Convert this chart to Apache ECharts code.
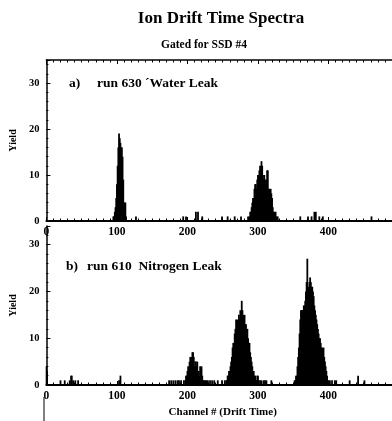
<!DOCTYPE html>
<html>
<head>
<meta charset="utf-8">
<script src="https://cdn.jsdelivr.net/npm/echarts@6/dist/echarts.min.js"></script>
<style>html,body{margin:0;padding:0;background:#fff;overflow:hidden;width:392px;height:421px}#c{width:402px;height:421px}</style>
</head>
<body>
<div id="c"></div>
<script>
// ---- Tick labels ----
const xTicks = [0, 100, 200, 300, 400];
const yTicks = [0, 10, 20, 30];

// ---- Panel a) run 630 Water Leak ----
const waterPeak1Start = 95;
const waterPeak1 = [1, 1, 2, 3, 5, 8, 12, 16, 19, 18, 17, 16, 16, 14, 9, 4, 4, 4, 1];
const waterPeak2Start = 286;
const waterPeak2 = [1, 0, 1, 2, 2, 3, 4, 5, 5, 7, 8, 8, 7, 9, 10, 10, 11, 12, 11, 13, 12, 10, 9, 10, 9, 8, 9, 11, 11, 7, 7, 6, 7, 6, 5, 3, 2, 1, 2, 2, 1, 0, 1];
const waterNoiseCh = [127, 194, 198, 212, 215, 221, 249, 257, 267, 276, 360, 371, 376, 380, 382, 387, 392, 461];
const waterNoiseY  = [1, 1, 1, 2, 2, 1, 1, 1, 1, 1, 1, 1, 1, 2, 2, 1, 1, 1];

// ---- Panel b) run 610 Nitrogen Leak ----
const nitroPeak1Start = 195;
const nitroPeak1 = [1, 0, 1, 2, 2, 3, 4, 3, 5, 6, 4, 6, 7, 7, 6, 4, 5, 5, 4, 5, 3, 3, 2, 4, 3, 4, 2, 1, 1, 1, 0, 1, 1, 0, 1];
const nitroPeak2Start = 253;
const nitroPeak2 = [1, 0, 1, 1, 2, 2, 3, 3, 4, 5, 6, 8, 9, 9, 11, 12, 14, 12, 14, 13, 15, 14, 16, 15, 18, 16, 15, 14, 15, 13, 13, 12, 12, 10, 9, 9, 7, 6, 5, 4, 3, 3, 2, 2, 1, 1, 2, 2, 1];
const nitroPeak3Start = 352;
const nitroPeak3 = [1, 1, 2, 2, 4, 6, 8, 11, 14, 16, 16, 16, 16, 17, 17, 18, 20, 22, 27, 19, 21, 22, 23, 22, 21, 21, 20, 19, 17, 16, 15, 14, 13, 12, 11, 10, 10, 9, 8, 8, 7, 8, 6, 5, 4, 3, 2, 1, 1];
const nitroNoiseCh = [0, 1, 20, 26, 33, 35, 36, 38, 41, 45, 103, 105, 174, 177, 180, 183, 186, 188, 191, 232, 235, 238, 243, 249, 303, 305, 308, 310, 312, 319, 402, 405, 409, 411, 430, 442, 451];
const nitroNoiseY  = [4, 3, 1, 1, 1, 2, 2, 1, 1, 1, 1, 2, 1, 1, 1, 1, 1, 1, 1, 1, 1, 1, 1, 1, 1, 1, 1, 1, 1, 1, 1, 1, 1, 1, 1, 2, 1];

function seg(start, arr) { return arr.map((v, i) => [start + i, v]); }
function pts(chs, ys) { return chs.map((c, i) => [c, ys[i]]); }

const waterData = [].concat(seg(waterPeak1Start, waterPeak1), seg(waterPeak2Start, waterPeak2), pts(waterNoiseCh, waterNoiseY)).filter(d => d[1] > 0);
const nitroData = [].concat(seg(nitroPeak1Start, nitroPeak1), seg(nitroPeak2Start, nitroPeak2), seg(nitroPeak3Start, nitroPeak3), pts(nitroNoiseCh, nitroNoiseY)).filter(d => d[1] > 0);

const FF = '"Liberation Serif", "DejaVu Serif", serif';

function xAx(gi, opts) {
  return Object.assign({
    gridIndex: gi, type: 'value', min: 0, max: 500, interval: 100,
    axisLine: { show: true, onZero: false, lineStyle: { color: '#000', width: 2 } },
    axisTick: { show: true, inside: true, length: 4, lineStyle: { color: '#000', width: 1 } },
    minorTick: { show: true, splitNumber: 10, length: 2.5, lineStyle: { color: '#000', width: 1 } },
    splitLine: { show: false },
    axisLabel: { margin: 5, color: '#000', fontFamily: FF, fontWeight: 'bold', fontSize: 11.5,
                 formatter: v => xTicks.includes(v) ? String(v) : '' }
  }, opts || {});
}
function yAx(gi, max, gap) {
  return {
    gridIndex: gi, type: 'value', min: 0, max: max, interval: 10,
    axisLine: { show: true, lineStyle: { color: '#000', width: 1.5 } },
    axisTick: { show: true, inside: true, length: 4, lineStyle: { color: '#000' } },
    minorTick: { show: true, splitNumber: 5, length: 2, lineStyle: { color: '#000' } },
    splitLine: { show: false },
    axisLabel: { margin: 7, color: '#000', fontFamily: FF, fontWeight: 'bold', fontSize: 10.5,
                 formatter: v => yTicks.includes(v) ? String(v) : '' },
    name: 'Yield', nameLocation: 'middle', nameRotate: 90, nameGap: gap,
    nameTextStyle: { color: '#000', fontFamily: FF, fontWeight: 'bold', fontSize: 10 }
  };
}

const chart = echarts.init(document.getElementById('c'), null, { renderer: 'canvas' });
chart.setOption({
  animation: false,
  backgroundColor: '#fff',
  grid: [
    { left: 43, right: 0, top: 60, bottom: 200 },
    { left: 43, right: 0, top: 226, bottom: 36 }
  ],
  xAxis: [
    xAx(0),
    xAx(0, { position: 'top', axisLabel: { show: false }, axisLine: { show: true, onZero: false, lineStyle: { color: '#000', width: 1.5 } } }),
    xAx(1, { name: 'Channel # (Drift Time)', nameLocation: 'middle', nameGap: 22,
             nameTextStyle: { color: '#000', fontFamily: FF, fontWeight: 'bold', fontSize: 11, padding: [0, 0, 0, 0] } })
  ],
  yAxis: [ yAx(0, 35, 22), yAx(1, 34, 25) ],
  series: [
    { type: 'bar', xAxisIndex: 0, yAxisIndex: 0, data: waterData, barWidth: 1.8, itemStyle: { color: '#000' }, silent: true },
    { type: 'bar', xAxisIndex: 2, yAxisIndex: 1, data: nitroData, barWidth: 1.8, itemStyle: { color: '#000' }, silent: true }
  ],
  graphic: [
    { type: 'text', x: 221, y: 19, style: { text: 'Ion Drift Time Spectra', fill: '#000', font: 'bold 17px "Liberation Serif", serif', textAlign: 'center', textVerticalAlign: 'middle' } },
    { type: 'text', x: 204, y: 45, style: { text: 'Gated for SSD #4', fill: '#000', font: 'bold 11.5px "Liberation Serif", serif', textAlign: 'center', textVerticalAlign: 'middle' } },
    { type: 'text', x: 69, y: 84, style: { text: 'a)', fill: '#000', font: 'bold 13.5px "Liberation Serif", serif', textAlign: 'left', textVerticalAlign: 'middle' } },
    { type: 'text', x: 97, y: 84, style: { text: 'run 630 \u00B4Water Leak', fill: '#000', font: 'bold 13.5px "Liberation Serif", serif', textAlign: 'left', textVerticalAlign: 'middle' } },
    { type: 'text', x: 66, y: 267, style: { text: 'b)', fill: '#000', font: 'bold 13.5px "Liberation Serif", serif', textAlign: 'left', textVerticalAlign: 'middle' } },
    { type: 'text', x: 87, y: 267, style: { text: 'run 610  Nitrogen Leak', fill: '#000', font: 'bold 13.5px "Liberation Serif", serif', textAlign: 'left', textVerticalAlign: 'middle' } },
    { type: 'line', shape: { x1: 44, y1: 397, x2: 44, y2: 421 }, style: { stroke: '#000', lineWidth: 1 } }
  ]
});
</script>
</body>
</html>
